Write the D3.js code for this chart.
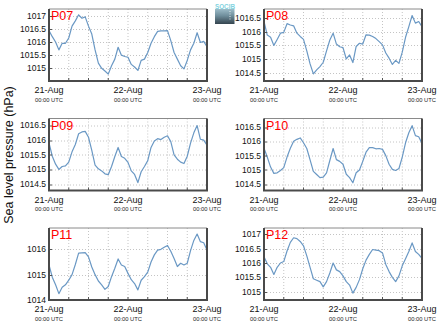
<!DOCTYPE html>
<html><head><meta charset="utf-8">
<script src="https://cdn.jsdelivr.net/npm/d3@7"></script>
<style>body{margin:0;background:#fff} svg{display:block}</style>
</head><body>
<svg id="c" width="441" height="327"></svg>
<script>
// ---------- data ----------
const stations = ["P07", "P08", "P09", "P10", "P11", "P12"];
const startTime = "2013-08-21T00:00:00Z";
const endTime = "2013-08-23T00:00:00Z";
// hourly sea level pressure (hPa), 21-Aug 00:00 .. 23-Aug 00:00
const p07 = [1016.43,1016.2,1016.0,1015.7,1015.95,1015.95,1016.15,1016.6,1016.8,1017.03,1016.9,1016.95,1016.6,1016.3,1015.7,1015.2,1015.0,1014.9,1014.78,1015.1,1015.35,1015.8,1015.5,1015.45,1015.42,1015.15,1015.05,1014.92,1015.3,1015.35,1015.6,1015.95,1016.2,1016.4,1016.42,1016.42,1016.43,1016.05,1015.6,1015.35,1015.1,1014.98,1015.3,1015.7,1015.95,1016.35,1015.98,1016.02,1015.82];
const p08 = [1016.38,1015.88,1015.8,1015.5,1015.72,1015.95,1015.98,1016.3,1016.25,1016.22,1015.95,1015.83,1015.72,1015.3,1014.82,1014.45,1014.6,1014.72,1014.88,1015.3,1015.7,1015.95,1015.55,1015.45,1015.42,1015.0,1015.15,1014.87,1015.46,1015.58,1015.55,1015.89,1015.88,1015.83,1015.75,1015.64,1015.52,1015.22,1015.03,1014.8,1014.95,1014.84,1015.25,1015.8,1016.19,1016.6,1016.32,1016.38,1016.19];
const p09 = [1015.91,1015.45,1015.18,1015.0,1015.1,1015.12,1015.25,1015.6,1015.85,1016.22,1016.28,1016.3,1016.1,1015.65,1015.15,1015.02,1014.95,1014.85,1014.82,1015.1,1015.44,1015.75,1015.44,1015.38,1015.24,1014.95,1014.83,1014.55,1014.92,1015.1,1015.3,1015.75,1015.97,1016.05,1016.02,1016.1,1016.15,1015.95,1015.5,1015.35,1015.25,1015.2,1015.45,1015.9,1016.25,1016.5,1016.03,1016.0,1015.83];
const p10 = [1015.76,1015.45,1015.1,1014.88,1014.9,1014.98,1015.08,1015.45,1015.76,1016.0,1016.07,1016.12,1015.95,1015.75,1015.35,1014.95,1014.84,1014.73,1014.75,1014.9,1015.33,1015.75,1015.36,1015.3,1015.2,1014.85,1014.73,1014.55,1014.9,1015.0,1015.3,1015.62,1015.78,1015.78,1015.74,1015.75,1015.72,1015.5,1015.2,1015.02,1014.98,1015.05,1015.45,1015.95,1016.3,1016.55,1016.2,1016.16,1015.93];
const p11 = [1015.38,1014.9,1014.6,1014.25,1014.5,1014.6,1014.78,1015.0,1015.4,1015.85,1015.86,1015.87,1015.7,1015.3,1015.0,1014.75,1014.6,1014.42,1014.53,1014.92,1015.25,1015.62,1015.38,1015.32,1015.05,1014.8,1014.65,1014.4,1014.78,1014.92,1015.1,1015.5,1015.78,1015.97,1016.0,1016.08,1016.15,1015.92,1015.64,1015.32,1015.45,1015.38,1015.45,1015.95,1016.35,1016.6,1016.3,1016.26,1015.97];
const p12 = [1016.22,1015.97,1015.85,1015.6,1015.85,1016.0,1016.05,1016.42,1016.72,1016.88,1016.85,1016.75,1016.6,1016.25,1015.85,1015.45,1015.4,1015.35,1015.17,1015.35,1015.65,1016.0,1015.76,1015.7,1015.55,1015.35,1015.23,1014.95,1015.15,1015.42,1015.8,1016.1,1016.3,1016.47,1016.45,1016.43,1016.35,1015.95,1015.7,1015.5,1015.35,1015.55,1015.9,1016.15,1016.4,1016.7,1016.4,1016.3,1016.16];
const yDomains = [[1014.52,1017.25],[1014.19,1016.84],[1014.28,1016.74],[1014.28,1016.8],[1014.0,1016.84],[1014.71,1017.22]];
const yTicks = [
  [1015,1015.5,1016,1016.5,1017],
  [1014.5,1015,1015.5,1016,1016.5],
  [1014.5,1015,1015.5,1016,1016.5],
  [1014.5,1015,1015.5,1016,1016.5],
  [1014,1015,1016],
  [1015,1015.5,1016,1016.5,1017]
];
const dayLabels = ["21-Aug", "22-Aug", "23-Aug"];
const timeLabel = "00:00 UTC";
const yTitle = "Sea level pressure (hPa)";
const logoText = "SOCIB";

// ---------- layout ----------
const series = [p07, p08, p09, p10, p11, p12];
const colX = [49, 264], rowY = [9, 118.5, 228];
const PW = 158, PH = 72;
const lineColor = "#6a98c4";
const font = "'Liberation Sans', Arial, sans-serif";

const svg = d3.select("#c");
const t0 = new Date(startTime), t1 = new Date(endTime);

// gradient for logo
const defs = svg.append("defs");
const lg = defs.append("linearGradient").attr("id", "lg").attr("x1", 0).attr("y1", 0).attr("x2", 0).attr("y2", 1);
lg.append("stop").attr("offset", "0%").attr("stop-color", "#9dbcc8");
lg.append("stop").attr("offset", "45%").attr("stop-color", "#6f8e9c");
lg.append("stop").attr("offset", "100%").attr("stop-color", "#34444e");

stations.forEach((name, i) => {
  const px = colX[i % 2], py = rowY[Math.floor(i / 2)];
  const g = svg.append("g").attr("transform", `translate(${px},${py})`);
  const x = d3.scaleUtc().domain([t0, t1]).range([0, PW]);
  const y = d3.scaleLinear().domain(yDomains[i]).range([PH, 0]);
  const data = series[i].map((v, k) => ({ t: d3.utcHour.offset(t0, k), v }));
  const sixHours = d3.utcHour.every(6).range(t0, d3.utcHour.offset(t1, 1));

  // grid
  g.append("g").selectAll("line.v").data(sixHours.filter(d => +d > +t0 && +d < +t1)).join("line")
    .attr("x1", d => x(d)).attr("x2", d => x(d)).attr("y1", 0).attr("y2", PH)
    .attr("stroke", "#c4c4c4").attr("stroke-width", 1).attr("stroke-dasharray", "1,2");
  g.append("g").selectAll("line.h").data(yTicks[i]).join("line")
    .attr("x1", 0).attr("x2", PW).attr("y1", d => Math.round(y(d)) + 0.5).attr("y2", d => Math.round(y(d)) + 0.5)
    .attr("stroke", "#c4c4c4").attr("stroke-width", 1).attr("stroke-dasharray", "1,2");

  // line
  g.append("path").datum(data)
    .attr("d", d3.line().x(d => x(d.t)).y(d => y(d.v)))
    .attr("fill", "none").attr("stroke", lineColor).attr("stroke-width", 1.2).attr("stroke-linejoin", "round");

  // inward ticks
  g.append("g").selectAll("line").data(sixHours).join("line")
    .attr("x1", d => x(d)).attr("x2", d => x(d)).attr("y1", PH).attr("y2", PH - 3)
    .attr("stroke", "#555").attr("stroke-width", 1);
  g.append("g").selectAll("line").data(yTicks[i]).join("line")
    .attr("x1", 0).attr("x2", 3).attr("y1", d => Math.round(y(d)) + 0.5).attr("y2", d => Math.round(y(d)) + 0.5)
    .attr("stroke", "#555").attr("stroke-width", 1);

  // frame
  g.append("line").attr("x1", 0).attr("x2", PW).attr("y1", 0).attr("y2", 0).attr("stroke", "#8a8a8a").attr("stroke-width", 1);
  g.append("path").attr("d", `M0,0V${PH}H${PW}V0`).attr("fill", "none").attr("stroke", "#4a4a4a").attr("stroke-width", 2);

  // y tick labels
  g.append("g").selectAll("text").data(yTicks[i]).join("text")
    .attr("x", -3).attr("y", d => y(d)).attr("dy", "0.35em")
    .attr("text-anchor", "end").attr("font-family", font).attr("font-size", 8.5).attr("fill", "#111")
    .text(d => String(d));

  // x labels
  const days = d3.utcDay.range(t0, d3.utcHour.offset(t1, 1));
  const xl = g.append("g").selectAll("g").data(days).join("g").attr("transform", d => `translate(${x(d)},${PH})`);
  xl.append("text").attr("y", 12).attr("text-anchor", "middle").attr("font-family", font)
    .attr("font-size", 9).attr("fill", "#111").text((d, k) => dayLabels[k]);
  xl.append("text").attr("y", 20.5).attr("text-anchor", "middle").attr("font-family", font)
    .attr("font-size", 5.8).attr("fill", "#222").text(timeLabel);

  // station label
  g.append("text").attr("x", 2).attr("y", 11).attr("font-family", font).attr("font-size", 12.5)
    .attr("fill", "#ff0000").text(name);
});

// y title
svg.append("text").attr("transform", "translate(12.5,155) rotate(-90)")
  .attr("text-anchor", "middle").attr("font-family", font).attr("font-size", 12.5).attr("fill", "#111")
  .text(yTitle);

// logo
const logo = svg.append("g").attr("transform", "translate(215,2)");
logo.append("rect").attr("x", 0).attr("y", 7).attr("width", 19.5).attr("height", 15).attr("fill", "url(#lg)");
logo.append("line").attr("x1", 15).attr("x2", 15).attr("y1", 9).attr("y2", 18)
  .attr("stroke", "#fff").attr("stroke-width", 0.8).attr("stroke-dasharray", "1,1.5");
logo.append("text").attr("x", 10).attr("y", 6.5).attr("text-anchor", "middle").attr("font-family", font)
  .attr("font-size", 7).attr("font-weight", "bold").attr("fill", "#7fd3e0").attr("textLength", 20).attr("lengthAdjust", "spacingAndGlyphs")
  .text(logoText);
</script>
</body></html>
